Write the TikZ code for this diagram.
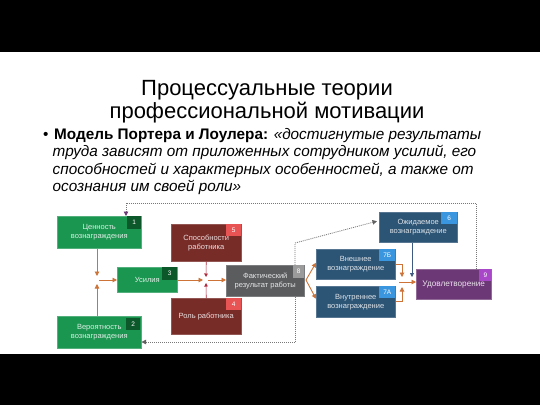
\documentclass[tikz,border=0pt]{standalone}
\usepackage{fontspec}
\setmainfont{Liberation Sans}
\usetikzlibrary{arrows.meta,calc}
\definecolor{gbox}{RGB}{26,150,80}
\definecolor{gtag}{RGB}{12,88,42}
\definecolor{rbox}{RGB}{120,44,40}
\definecolor{rtag}{RGB}{232,84,84}
\definecolor{kbox}{RGB}{90,92,94}
\definecolor{ktag}{RGB}{155,155,155}
\definecolor{bbox}{RGB}{44,84,117}
\definecolor{btag}{RGB}{58,150,222}
\definecolor{pbox}{RGB}{108,56,118}
\definecolor{ptag}{RGB}{168,72,200}
\definecolor{orarr}{RGB}{205,115,55}
\definecolor{rdarr}{RGB}{175,40,60}
\definecolor{blarr}{RGB}{60,90,130}
\definecolor{dotc}{RGB}{120,120,120}
\begin{document}
\begin{tikzpicture}[x=1pt,y=-1pt,
  box/.style={rectangle, inner sep=1pt, anchor=north west, align=center,
    font=\fontsize{7.5}{9}\selectfont},
  gb/.style={box, fill=gbox, draw=gbox!75!white, line width=0.5pt, text=white!85!gbox},
  rb/.style={box, fill=rbox, draw=rbox!80!white, line width=0.5pt, text=white!85!rbox},
  kb/.style={box, fill=kbox, draw=kbox!80!white, line width=0.5pt, text=white!85!kbox},
  bb/.style={box, fill=bbox, draw=bbox!80!white, line width=0.5pt, text=white!85!bbox},
  pb/.style={box, fill=pbox, draw=pbox!75!white, line width=0.5pt, text=white!85!pbox},
  tag/.style={rectangle, inner sep=0pt, anchor=north east, minimum width=15pt,
    minimum height=12pt, font=\fontsize{6.5}{7}\selectfont, text=white},
  oarr/.style={draw=orarr, line width=0.9pt, -{Triangle[length=4.5pt,width=4.5pt]}},
  rarr/.style={draw=rdarr, line width=0.6pt, -{Triangle[length=3.5pt,width=3.5pt]}},
  barr/.style={draw=blarr, line width=0.8pt, -{Triangle[length=4pt,width=4pt]}},
  dots/.style={draw=dotc, line width=0.8pt, dash pattern=on 1pt off 1pt},
  bodyline/.style={anchor=base west, inner sep=0pt, font=\fontsize{15.3}{17}\selectfont}
]
\useasboundingbox (0,0) rectangle (540,405);
\fill[white] (0,0) rectangle (540,405);
\fill[black] (0,0) rectangle (540,52);
\fill[black] (0,354) rectangle (540,405);

% title
\node[anchor=base, inner sep=0pt, font=\fontsize{22}{24}\selectfont] (tt1) at (267,95.5) {Процессуальные теории};
\node[anchor=base, inner sep=0pt, font=\fontsize{22}{24}\selectfont] (tt2) at (267,118.5) {профессиональной мотивации};

% body
\node[bodyline] (bul) at (43,139.3) {•};
\node[bodyline] (l1) at (54,139.3) {\textbf{Модель Портера и Лоулера:} \textit{«достигнутые результаты}};
\node[bodyline] (l2) at (52.5,156.7) {\textit{труда зависят от приложенных сотрудником усилий, его}};
\node[bodyline] (l3) at (52.5,174.1) {\textit{способностей и характерных особенностей, а также от}};
\node[bodyline] (l4) at (52.5,191.5) {\textit{осознания им своей роли»}};

% boxes
\node[gb, minimum width=84pt, minimum height=32pt] (b1) at (57,216) {Ценность\\вознаграждения};
\node[tag, fill=gtag, minimum width=14pt, minimum height=13pt] at (b1.north east) {1};
\node[gb, minimum width=84pt, minimum height=32pt] (b2) at (57,316) {Вероятность\\вознаграждения};
\node[tag, fill=gtag, minimum width=14pt] at ([xshift=-1pt,yshift=-2pt]b2.north east) {2};
\node[gb, minimum width=60pt, minimum height=25pt] (b3) at (117,267) {Усилия};
\node[tag, fill=gtag, minimum height=13pt] at (b3.north east) {3};
\node[rb, minimum width=70pt, minimum height=37pt] (b5) at (171,224) {Способности\\работника};
\node[tag, fill=rtag] at (b5.north east) {5};
\node[rb, minimum width=70pt, minimum height=36pt] (b4) at (171,298) {Роль работника};
\node[tag, fill=rtag] at (b4.north east) {4};
\node[kb, minimum width=78pt, minimum height=31pt] (b8) at (226,265) {Фактический\\результат работы};
\node[tag, fill=ktag, minimum width=11pt, minimum height=13pt] at (b8.north east) {8};
\node[bb, minimum width=79pt, minimum height=30pt] (b7b) at (316,249) {Внешнее\\вознаграждение};
\node[tag, fill=btag, minimum width=16pt] at (b7b.north east) {7Б};
\node[bb, minimum width=79pt, minimum height=31pt] (b7a) at (316,286) {Внутреннее\\вознаграждение};
\node[tag, fill=btag, minimum width=16pt] at (b7a.north east) {7А};
\node[bb, minimum width=78pt, minimum height=30pt] (b6) at (379,212) {Ожидаемое\\вознаграждение};
\node[tag, fill=btag, minimum width=16pt] at (b6.north east) {6};
\node[pb, minimum width=75pt, minimum height=30pt, font=\fontsize{8.2}{10}\selectfont] (b9) at (416,269) {Удовлетворение};
\node[tag, fill=ptag, minimum width=12pt] at (b9.north east) {9};

% junction 1
\coordinate (j1t) at (97,276);
\coordinate (j1b) at (97,284);
\coordinate (j1r) at (99,280);
\draw[oarr] (b1.south -| j1t) -- (j1t);
\draw[oarr] (b2.north -| j1b) -- (j1b);
\draw[oarr] (j1r) -- (b3.west |- j1r);

% junction 2
\coordinate (j2l) at (203,280);
\coordinate (j2r) at (208,280);
\coordinate (j2t) at (206,277);
\coordinate (j2b) at (206,283);
\draw[oarr] (b3.east |- j2l) -- (j2l);
\draw[oarr] (j2r) -- (b8.west |- j2r);
\draw[rarr] (b5.south) -- (j2t);
\draw[rarr] (b4.north) -- (j2b);

% fork to 7
\coordinate (f8) at (306,280);
\draw[oarr] (f8) -- ([yshift=1.5pt]b7b.west);
\draw[oarr] (f8) -- ([yshift=3pt]b7a.west);

% into 9
\coordinate (k9t) at (402,277);
\coordinate (k9b) at (402,287);
\coordinate (k9l) at (399,282);
\draw[oarr] (b7b.east) -| (k9t);
\draw[oarr] (b7a.east) -| (k9b);
\draw[oarr] (k9l) -- (b9.west |- k9l);
\coordinate (k6) at (412,277);
\draw[barr] (b6.south -| k6) -- (k6);

% dotted feedback
\coordinate (d8) at (295,243);
\draw[dots, -{Triangle[length=4.5pt,width=4.5pt,color=dotc!80!black]}] (b8.north -| d8) -- (d8) -- ($(b6.north west)!0.3!(b6.south west)+(-2,0)$);
\coordinate (p1) at (476,203);
\coordinate (p2) at (126,203);
\draw[dots, -{Triangle[length=4.5pt,width=4.5pt,color=pbox]}] (b9.north -| p1) -- (p1) -- (p2) -- (b1.north -| p2);
\coordinate (q1) at (295,342);
\draw[dots, -{Triangle[length=4.5pt,width=4.5pt,color=dotc!80!black]}] (b8.south -| q1) -- (q1) -- (b2.east |- q1);
\end{tikzpicture}
\end{document}
